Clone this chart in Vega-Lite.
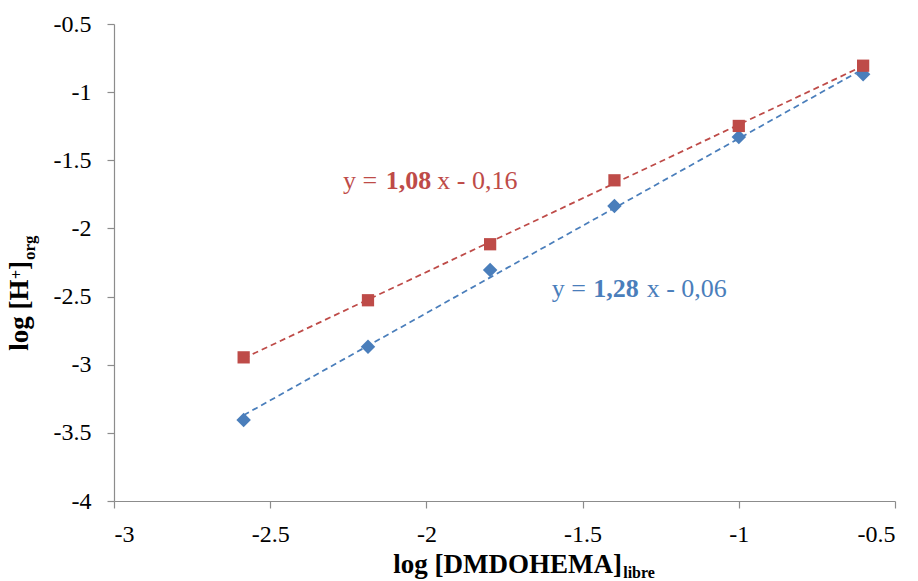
{
  "$schema": "https://vega.github.io/schema/vega-lite/v6.json",
  "width": 781,
  "height": 477,
  "autosize": {"type": "none"},
  "padding": {"left": 114, "top": 24, "right": 23, "bottom": 80},
  "background": "white",
  "config": {
    "view": {"stroke": null},
    "text": {"font": "Liberation Serif"}
  },
  "datasets": {
    "pts": [
      {"series": "blue", "x": -2.585, "y": -3.406},
      {"series": "blue", "x": -2.187, "y": -2.868},
      {"series": "blue", "x": -1.796, "y": -2.305},
      {"series": "blue", "x": -1.398, "y": -1.835},
      {"series": "blue", "x": -1.0, "y": -1.329},
      {"series": "blue", "x": -0.602, "y": -0.869},
      {"series": "red", "x": -2.585, "y": -2.946},
      {"series": "red", "x": -2.187, "y": -2.527},
      {"series": "red", "x": -1.796, "y": -2.116},
      {"series": "red", "x": -1.398, "y": -1.647},
      {"series": "red", "x": -1.0, "y": -1.248},
      {"series": "red", "x": -0.602, "y": -0.806}
    ],
    "eq": [
      {"series": "red", "part": "a", "x": -2.267, "y": -1.713, "text": "y ="},
      {"series": "red", "part": "b", "x": -2.130, "y": -1.713, "text": "1,08"},
      {"series": "red", "part": "c", "x": -1.965, "y": -1.713, "text": "x - 0,16"},
      {"series": "blue", "part": "a", "x": -1.599, "y": -2.503, "text": "y ="},
      {"series": "blue", "part": "b", "x": -1.466, "y": -2.503, "text": "1,28"},
      {"series": "blue", "part": "c", "x": -1.295, "y": -2.503, "text": "x - 0,06"}
    ],
    "titles": [
      {"role": "xmain", "x": -2.106, "y": -4.530, "text": "log [DMDOHEMA]"},
      {"role": "xsub", "x": -1.370, "y": -4.562, "text": "libre"},
      {"role": "ymain", "x": -3.274, "y": -2.897, "text": "log [H"},
      {"role": "ysup", "x": -3.294, "y": -2.371, "text": "+"},
      {"role": "ymain", "x": -3.274, "y": -2.305, "text": "]"},
      {"role": "ysub", "x": -3.254, "y": -2.232, "text": "org"}
    ]
  },
  "encoding": {
    "x": {
      "field": "x",
      "type": "quantitative",
      "scale": {"domain": [-3, -0.5], "nice": false, "zero": false},
      "axis": {
        "values": [-3, -2.5, -2, -1.5, -1, -0.5],
        "labelExpr": "'' + datum.value",
        "grid": false,
        "title": null,
        "labelFont": "Liberation Serif",
        "labelFontSize": 24,
        "labelColor": "#000000",
        "domainColor": "#8c8c8c",
        "tickColor": "#8c8c8c",
        "domainWidth": 1.2,
        "tickWidth": 1.2,
        "tickSize": 7,
        "labelPadding": 14
      }
    },
    "y": {
      "field": "y",
      "type": "quantitative",
      "scale": {"domain": [-4, -0.5], "nice": false, "zero": false},
      "axis": {
        "values": [-4, -3.5, -3, -2.5, -2, -1.5, -1, -0.5],
        "labelExpr": "'' + datum.value",
        "grid": false,
        "title": null,
        "labelFont": "Liberation Serif",
        "labelFontSize": 24,
        "labelColor": "#000000",
        "domainColor": "#8c8c8c",
        "tickColor": "#8c8c8c",
        "domainWidth": 1.2,
        "tickWidth": 1.2,
        "tickSize": 7,
        "labelPadding": 16
      }
    }
  },
  "layer": [
    {
      "data": {"name": "pts"},
      "transform": [{"regression": "y", "on": "x", "groupby": ["series"]}],
      "mark": {"type": "line", "strokeDash": [6, 4], "strokeWidth": 1.75},
      "encoding": {
        "color": {"field": "series", "type": "nominal", "scale": {"domain": ["blue", "red"], "range": ["#4A7EBB", "#BE4B48"]}, "legend": null}
      }
    },
    {
      "data": {"name": "pts"},
      "transform": [{"filter": "datum.series == 'blue'"}],
      "mark": {"type": "point", "filled": true, "opacity": 1, "shape": "diamond", "size": 210, "color": "#4A7EBB"}
    },
    {
      "data": {"name": "pts"},
      "transform": [{"filter": "datum.series == 'red'"}],
      "mark": {"type": "point", "filled": true, "opacity": 1, "shape": "square", "size": 150, "color": "#BE4B48"}
    },
    {
      "data": {"name": "eq"},
      "transform": [{"filter": "datum.part != 'b'"}],
      "mark": {"type": "text", "align": "left", "baseline": "alphabetic", "fontSize": 26},
      "encoding": {
        "text": {"field": "text"},
        "color": {"field": "series", "type": "nominal", "legend": null}
      }
    },
    {
      "data": {"name": "eq"},
      "transform": [{"filter": "datum.part == 'b'"}],
      "mark": {"type": "text", "align": "left", "baseline": "alphabetic", "fontSize": 26, "fontWeight": "bold"},
      "encoding": {
        "text": {"field": "text"},
        "color": {"field": "series", "type": "nominal", "legend": null}
      }
    },
    {
      "data": {"name": "titles"},
      "transform": [{"filter": "datum.role == 'xmain'"}],
      "mark": {"type": "text", "align": "left", "baseline": "alphabetic", "fontSize": 27, "fontWeight": "bold", "color": "#000000"},
      "encoding": {"text": {"field": "text"}}
    },
    {
      "data": {"name": "titles"},
      "transform": [{"filter": "datum.role == 'xsub'"}],
      "mark": {"type": "text", "align": "left", "baseline": "alphabetic", "fontSize": 16, "fontWeight": "bold", "color": "#000000"},
      "encoding": {"text": {"field": "text"}}
    },
    {
      "data": {"name": "titles"},
      "transform": [{"filter": "datum.role == 'ymain'"}],
      "mark": {"type": "text", "align": "left", "baseline": "alphabetic", "angle": 270, "fontSize": 27, "fontWeight": "bold", "color": "#000000"},
      "encoding": {"text": {"field": "text"}}
    },
    {
      "data": {"name": "titles"},
      "transform": [{"filter": "datum.role == 'ysup'"}],
      "mark": {"type": "text", "align": "left", "baseline": "alphabetic", "angle": 270, "fontSize": 16, "fontWeight": "bold", "color": "#000000"},
      "encoding": {"text": {"field": "text"}}
    },
    {
      "data": {"name": "titles"},
      "transform": [{"filter": "datum.role == 'ysub'"}],
      "mark": {"type": "text", "align": "left", "baseline": "alphabetic", "angle": 270, "fontSize": 17, "fontWeight": "bold", "color": "#000000"},
      "encoding": {"text": {"field": "text"}}
    }
  ]
}
